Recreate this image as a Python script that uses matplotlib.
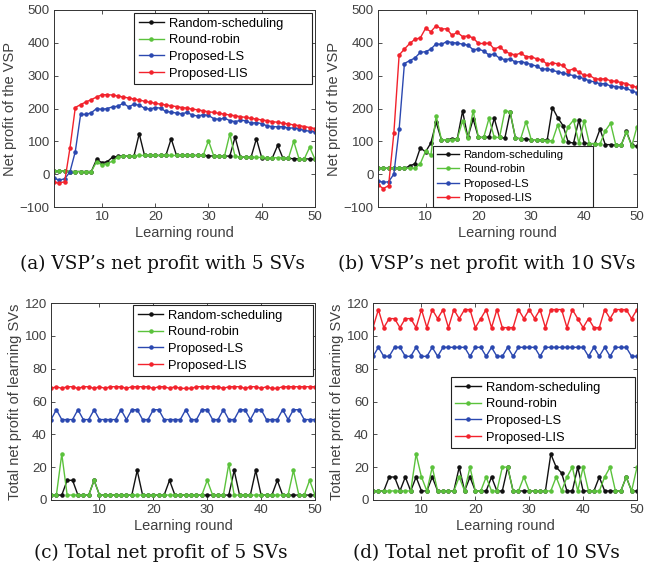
import matplotlib
matplotlib.use("Agg")
import matplotlib.pyplot as plt

rounds = list(range(1, 51))
names = ["Random-scheduling", "Round-robin", "Proposed-LS", "Proposed-LIS"]
colors = ["#111111", "#5bc23c", "#2b48b0", "#f2222c"]

# (a) VSP net profit, 5 SVs
a_rand = [10, 10, 10, 8, 8, 8, 8, 8, 45, 35, 38, 52, 54, 55, 55, 55, 123, 57, 57, 57,
          57, 57, 108, 57, 57, 57, 57, 57, 57, 56, 55, 55, 55, 55, 113, 52, 52, 52, 108, 50,
          50, 50, 88, 48, 48, 47, 47, 47, 46, 45]
a_rr = [10, 10, 10, 8, 8, 8, 8, 8, 38, 28, 32, 40, 52, 55, 55, 56, 57, 57, 57, 57,
        57, 57, 57, 57, 57, 57, 57, 57, 57, 102, 55, 55, 55, 122, 54, 52, 52, 52, 51, 51,
        50, 50, 50, 50, 48, 100, 47, 47, 82, 45]
a_ls = [-12, -18, -14, 7, 69, 182, 182, 187, 200, 197, 200, 205, 207, 216, 205, 213, 210, 201, 198, 203,
        201, 191, 189, 186, 184, 188, 180, 177, 181, 179, 169, 167, 171, 163, 160, 164, 163, 155, 157, 154,
        147, 145, 144, 145, 140, 141, 138, 133, 131, 129]
a_lis = [-25, -27, -23, 80, 203, 212, 220, 227, 235, 242, 242, 241, 238, 235, 232, 229, 226, 222, 219, 216,
         213, 211, 208, 206, 203, 201, 198, 196, 193, 190, 188, 185, 183, 180, 178, 175, 173, 170, 168, 165,
         163, 160, 158, 155, 153, 150, 148, 145, 142, 139]

# (b) VSP net profit, 10 SVs
b_rand = [18, 18, 18, 18, 18, 18, 25, 32, 80, 68, 95, 158, 105, 105, 108, 108, 192, 112, 168, 112,
          112, 113, 170, 112, 110, 188, 110, 108, 107, 105, 105, 105, 103, 203, 172, 148, 97, 95, 165, 95,
          93, 93, 137, 90, 90, 88, 88, 130, 88, 85]
b_rr = [18, 18, 18, 18, 18, 18, 18, 18, 32, 70, 58, 178, 105, 105, 105, 108, 162, 110, 193, 112,
        112, 170, 112, 112, 193, 190, 110, 108, 160, 105, 105, 103, 102, 102, 150, 100, 145, 165, 95, 162,
        93, 93, 92, 132, 155, 88, 88, 128, 85, 145]
b_ls = [-20, -25, -23, 0, 137, 337, 346, 354, 371, 373, 381, 397, 395, 404, 401, 399, 396, 393, 379, 381,
        375, 363, 366, 353, 349, 351, 341, 343, 339, 334, 329, 319, 321, 316, 312, 308, 304, 300, 296, 291,
        284, 281, 275, 276, 268, 267, 264, 261, 254, 248]
b_lis = [-32, -44, -35, 125, 363, 381, 398, 411, 415, 444, 434, 452, 442, 443, 423, 432, 419, 421, 415, 398,
         398, 399, 381, 388, 374, 367, 363, 369, 358, 358, 351, 348, 335, 339, 336, 331, 315, 321, 311, 301,
         301, 291, 289, 291, 284, 283, 279, 276, 269, 265]

# (c) total net profit of learning SVs, 5 SVs
c_rand = [3, 3, 3, 12, 12, 3, 3, 3, 12, 3, 3, 3, 3, 3, 3, 3, 18, 3, 3, 3,
          3, 3, 12, 3, 3, 3, 3, 3, 3, 3, 3, 3, 3, 3, 18, 3, 3, 3, 18, 3,
          3, 3, 12, 3, 3, 3, 3, 3, 3, 3]
c_rr = [3, 3, 28, 3, 3, 3, 3, 3, 12, 3, 3, 3, 3, 3, 3, 3, 3, 3, 3, 3,
        3, 3, 3, 3, 3, 3, 3, 3, 3, 12, 3, 3, 3, 22, 3, 3, 3, 3, 3, 3,
        3, 3, 3, 3, 3, 18, 3, 3, 12, 3]
c_ls = [49, 55, 49, 49, 49, 55, 49, 49, 55, 49, 49, 49, 49, 55, 49, 55, 55, 49, 49, 55,
        55, 49, 49, 49, 49, 55, 49, 49, 55, 55, 49, 49, 55, 49, 49, 55, 55, 49, 55, 55,
        49, 49, 49, 55, 49, 55, 55, 49, 49, 49]
c_lis = [68, 69, 68, 69, 69, 68, 69, 69, 68, 69, 68, 69, 69, 69, 68, 69, 69, 69, 69, 68,
         69, 69, 68, 69, 68, 68, 68, 69, 69, 69, 69, 69, 68, 69, 69, 69, 68, 69, 69, 68,
         69, 68, 68, 69, 69, 69, 69, 69, 69, 69]

# (d) total net profit of learning SVs, 10 SVs
d_rand = [5.5, 5.5, 5.5, 14, 14, 5.5, 14, 5.5, 14, 5.5, 5.5, 14, 5.5, 5.5, 5.5, 5.5, 20, 5.5, 14, 5.5,
          5.5, 5.5, 14, 5.5, 5.5, 20, 5.5, 5.5, 5.5, 5.5, 5.5, 5.5, 5.5, 28, 20, 16.5, 5.5, 5.5, 20, 5.5,
          5.5, 5.5, 14, 5.5, 5.5, 5.5, 5.5, 14, 5.5, 5.5]
d_rr = [5.5, 5.5, 5.5, 5.5, 5.5, 5.5, 5.5, 5.5, 28, 14, 5.5, 20, 5.5, 5.5, 5.5, 5.5, 14, 5.5, 20, 5.5,
        5.5, 14, 5.5, 5.5, 20, 20, 5.5, 5.5, 14, 5.5, 5.5, 5.5, 5.5, 5.5, 14, 5.5, 14, 20, 5.5, 20,
        5.5, 5.5, 5.5, 14, 20, 5.5, 5.5, 14, 5.5, 20]
d_ls = [87.5, 93, 87.5, 87.5, 93, 93, 87.5, 87.5, 93, 87.5, 87.5, 93, 87.5, 93, 93, 93, 93, 93, 87.5, 93,
        93, 87.5, 93, 87.5, 87.5, 93, 87.5, 93, 93, 93, 93, 87.5, 93, 93, 93, 93, 93, 93, 93, 93,
        87.5, 93, 87.5, 93, 87.5, 93, 93, 93, 87.5, 87.5]
d_lis = [105, 116, 105, 110.5, 110.5, 105, 110.5, 110.5, 105, 116, 105, 116, 110.5, 116, 105, 116, 110.5, 116, 116, 105,
         110.5, 116, 105, 116, 105, 105, 105, 116, 110.5, 116, 110.5, 116, 105, 116, 116, 116, 105, 116, 110.5, 105,
         110.5, 105, 105, 116, 110.5, 116, 116, 116, 110.5, 116]

plt.rcParams['font.family'] = ['Liberation Sans', 'DejaVu Sans']

W, H = 645, 571
fig = plt.figure(figsize=(W / 100, H / 100), dpi=100)


def box(l, t, r, b):
    # pixel box -> figure fraction
    return [l / W, 1 - b / H, (r - l) / W, (b - t) / H]


def panel(rect, series, ylim, yticks, ylabel, leg):
    ax = fig.add_axes(rect)
    for ys, nm, c in zip(series, names, colors):
        ax.plot(rounds, ys, color=c, lw=1.0, marker='.', ms=4.5, label=nm)
    ax.set_xlim(1, 50)
    ax.set_ylim(*ylim)
    ax.set_xticks([10, 20, 30, 40, 50])
    ax.set_yticks(yticks)
    ax.tick_params(direction='in', top=True, right=True, length=3, width=0.6,
                   labelsize=9.5, colors='#333333', labelcolor='#404040', pad=3)
    for s in ax.spines.values():
        s.set_linewidth(0.7)
        s.set_color('#333333')
    ax.set_xlabel("Learning round", fontsize=10.5, color='#404040', labelpad=2)
    ax.set_ylabel(ylabel, fontsize=10.5, color='#404040', labelpad=2)
    # matlab-like legend: wide box with empty space on the right
    lg = ax.legend(fancybox=False, framealpha=1, edgecolor='#222222', mode='expand',
                   handlelength=2.0, handletextpad=0.35, borderpad=0.35,
                   borderaxespad=0, **leg)
    lg.get_frame().set_linewidth(0.8)
    return ax


panel(box(54, 10, 315, 207), [a_rand, a_rr, a_ls, a_lis], (-100, 500),
      range(-100, 501, 100), "Net profit of the VSP",
      dict(loc='upper left', bbox_to_anchor=(0.3065, 0.6, 0.682, 0.385),
           fontsize=9.3, labelspacing=0.36))
panel(box(378, 10, 637, 207), [b_rand, b_rr, b_ls, b_lis], (-100, 500),
      range(-100, 501, 100), "Net profit of the VSP",
      dict(loc='lower left', bbox_to_anchor=(0.212, 0.0, 0.618, 0.31),
           fontsize=8.1, labelspacing=0.4))
panel(box(51, 303, 315, 500), [c_rand, c_rr, c_ls, c_lis], (0, 120),
      range(0, 121, 20), "Total net profit of learning SVs",
      dict(loc='upper left', bbox_to_anchor=(0.311, 0.6, 0.682, 0.39),
           fontsize=9.3, labelspacing=0.36))
panel(box(373, 303, 637, 500), [d_rand, d_rr, d_ls, d_lis], (0, 120),
      range(0, 121, 20), "Total net profit of learning SVs",
      dict(loc='upper left', bbox_to_anchor=(0.295, 0.269, 0.697, 0.355),
           fontsize=9.3, labelspacing=0.36))

cap = dict(ha='center', va='center', fontsize=13.3, family='DejaVu Serif', color='#111111')
fig.text(162 / W, 1 - 264 / H, "(a) VSP\u2019s net profit with 5 SVs", **cap)
fig.text(487 / W, 1 - 264 / H, "(b) VSP\u2019s net profit with 10 SVs", **cap)
fig.text(161 / W, 1 - 553 / H, "(c) Total net profit of 5 SVs", **cap)
fig.text(486 / W, 1 - 553 / H, "(d) Total net profit of 10 SVs", **cap)

fig.savefig("out.png", dpi=100)
